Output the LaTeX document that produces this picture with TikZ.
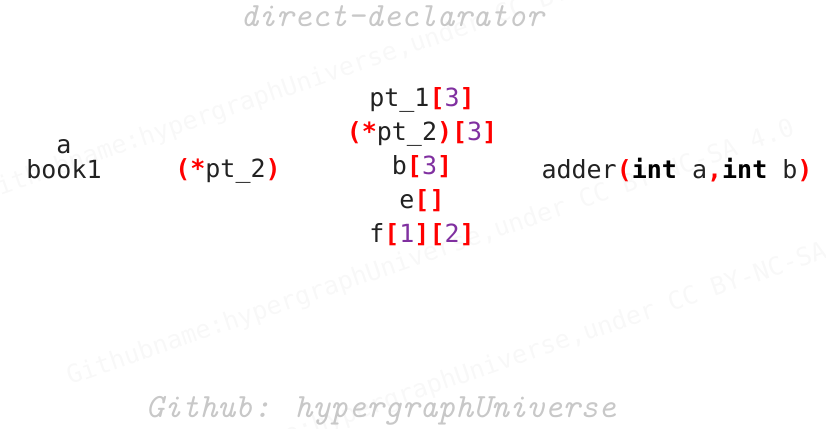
\documentclass[tikz,border=0pt]{standalone}
\usepackage{fontspec}
\newfontfamily\codefont{DejaVu Sans Mono}
\definecolor{txt}{RGB}{34,34,34}
\definecolor{rd}{RGB}{255,0,0}
\definecolor{pu}{RGB}{128,48,160}
\definecolor{cap}{RGB}{200,200,200}
\definecolor{wm}{RGB}{248,248,248}
\newcommand{\R}[1]{\textcolor{rd}{\bfseries #1}}
\newcommand{\Pn}[1]{\textcolor{pu}{#1}}
\begin{document}
\begin{tikzpicture}[x=1pt,y=-1pt,
  code/.style={anchor=base,inner sep=0pt,text=txt,font=\codefont\fontsize{25}{30}\selectfont},
  captext/.style={anchor=base,inner sep=0pt,text=cap,font=\ttfamily\itshape\fontsize{34}{38}\selectfont},
  wmark/.style={anchor=base west,inner sep=0pt,rotate=19,text=wm,font=\codefont\fontsize{25}{30}\selectfont}]
\useasboundingbox (0,0) rectangle (826,428);
% watermarks
\node[wmark] (w1) at (-14,200) {Githubname:hypergraphUniverse,under CC BY-NC-SA 4.0};
\node[wmark] (w2) at (70,385) {Githubname:hypergraphUniverse,under CC BY-NC-SA 4.0};
\node[wmark] (w3) at (159,488) {Githubname:hypergraphUniverse,under CC BY-NC-SA 4.0};
% captions
\node[captext] (title) at (392,27) {direct-declarator};
\node[captext] (foot) at (381,417) {Github: hypergraphUniverse};
% left column
\node[code] (a) at (64,153) {a};
\node[code] (book) at (64,178) {book1};
\node[code] (ptr) at (228,177) {\R{(*}pt\_2\R{)}};
% center column
\node[code] (c1) at (422,106) {pt\_1\R{[}\Pn{3}\R{]}};
\node[code] (c2) at (422,140) {\R{(*}pt\_2\R{)[}\Pn{3}\R{]}};
\node[code] (c3) at (422,174) {b\R{[}\Pn{3}\R{]}};
\node[code] (c4) at (422,208) {e\R{[]}};
\node[code] (c5) at (422,242) {f\R{[}\Pn{1}\R{][}\Pn{2}\R{]}};
% right
\node[code] (fn) at (677,178) {adder\R{(}\textcolor{black}{\bfseries int} a\R{,}\textcolor{black}{\bfseries int} b\R{)}};
\end{tikzpicture}
\end{document}
